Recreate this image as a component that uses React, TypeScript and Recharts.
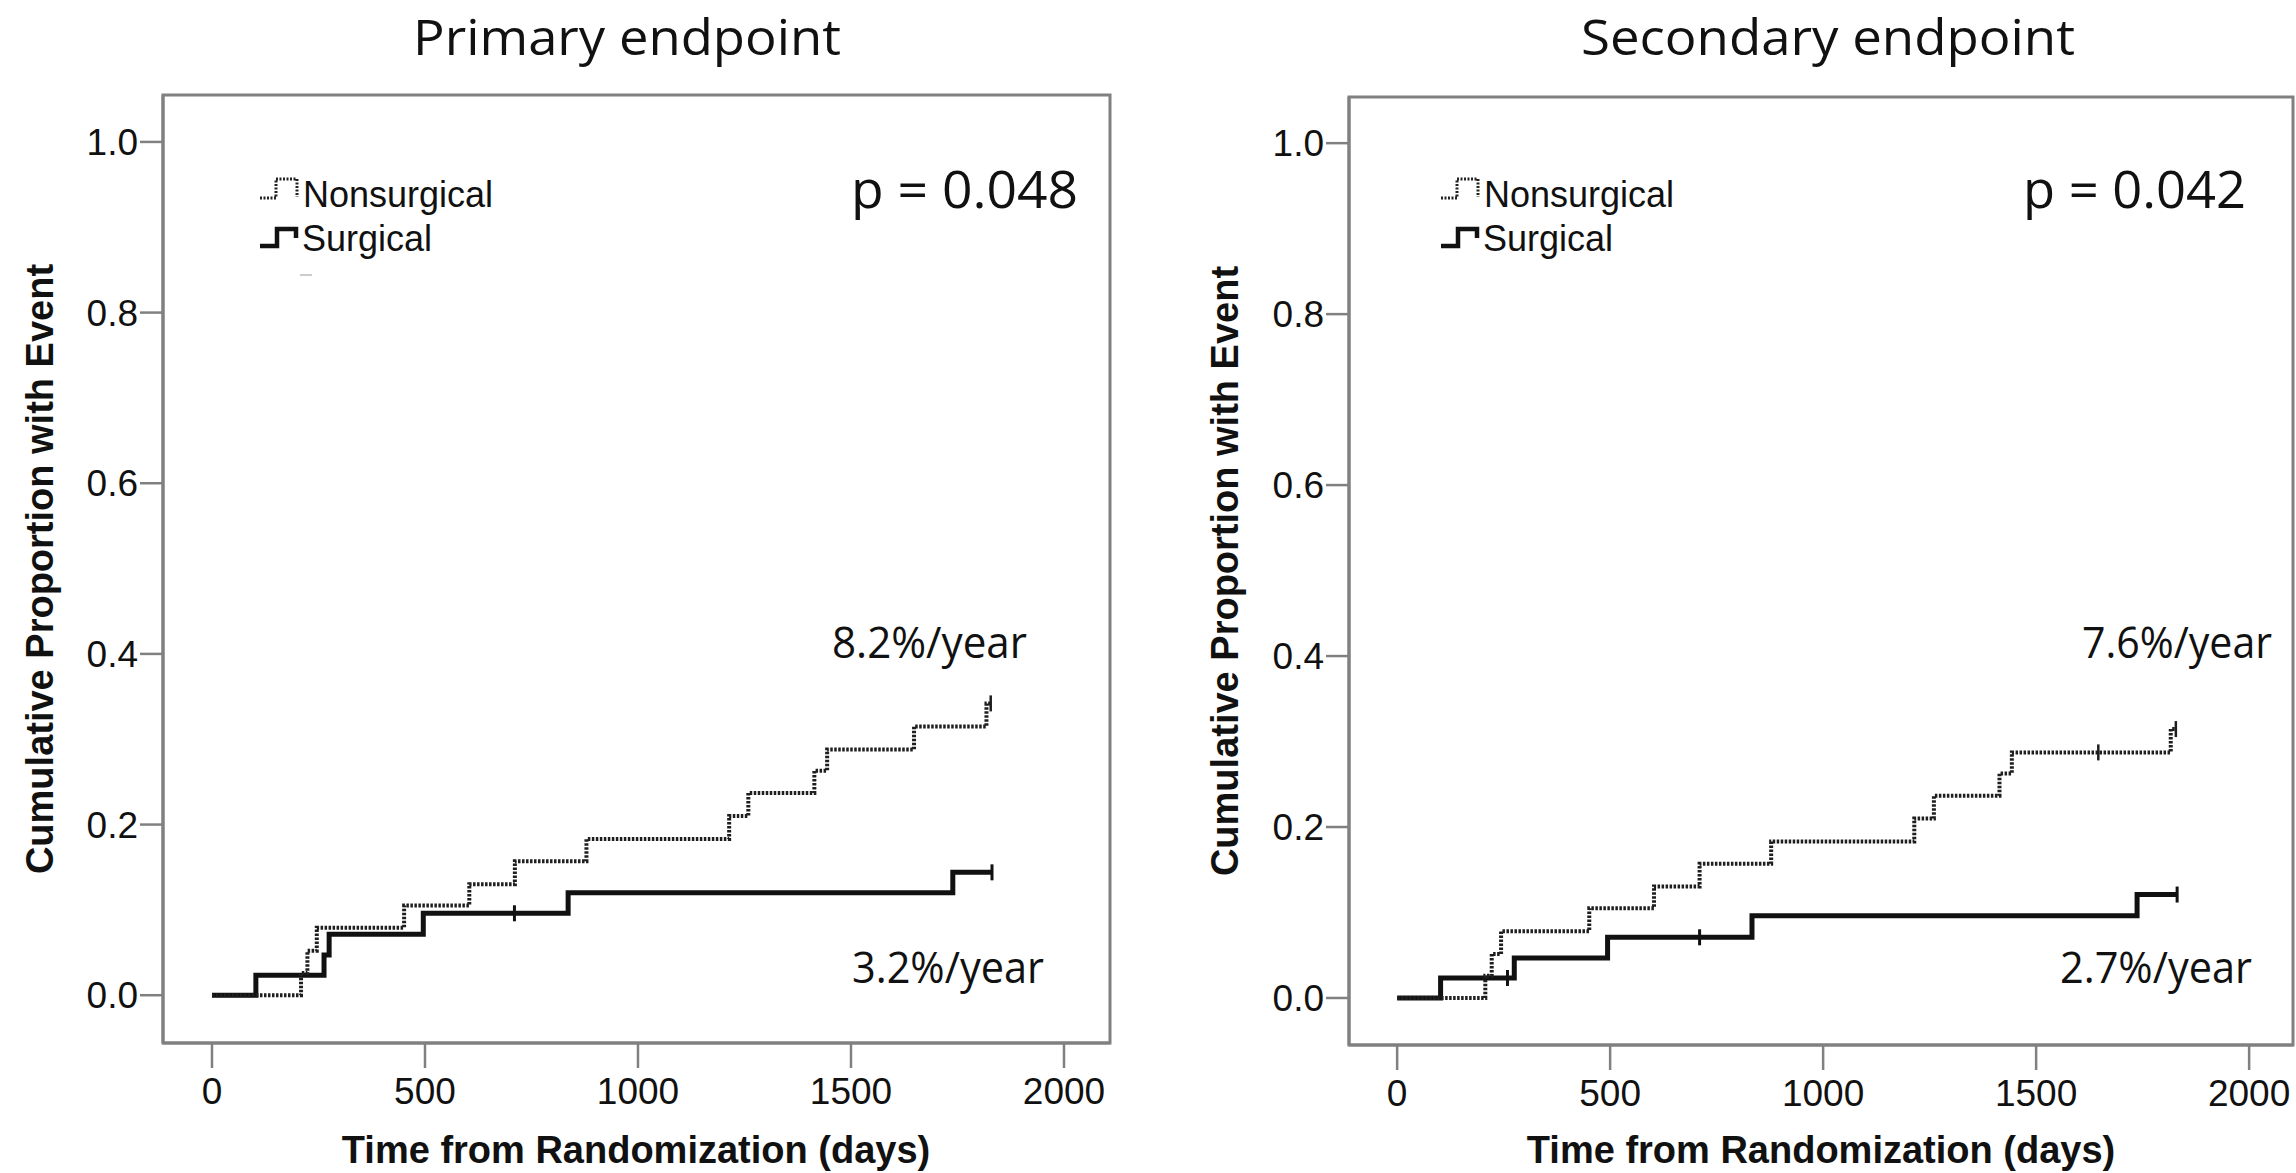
import React from 'react';
import { LineChart, Line, XAxis, YAxis, ReferenceArea } from 'recharts';

type Pt = { t: number; v: number; c?: number };

// ---- data ----
const xTicks = [0, 500, 1000, 1500, 2000];
const yTicks = [0, 0.2, 0.4, 0.6, 0.8, 1.0];
const seriesNames = ['Nonsurgical', 'Surgical'];
const panelTitles = ['Primary endpoint', 'Secondary endpoint'];
const pValues = ['p = 0.048', 'p = 0.042'];
const nonsurgicalRates = ['8.2%/year', '7.6%/year'];
const surgicalRates = ['3.2%/year', '2.7%/year'];
const xAxisTitle = 'Time from Randomization (days)';
const yAxisTitle = 'Cumulative Proportion with Event';

// c = censored mark
const primaryNonsurgical: Pt[] = [
  { t: 0, v: 0 }, { t: 209, v: 0.026 }, { t: 224, v: 0.052 }, { t: 246, v: 0.079 },
  { t: 451, v: 0.105 }, { t: 604, v: 0.130 }, { t: 711, v: 0.157 }, { t: 879, v: 0.183 },
  { t: 1214, v: 0.210 }, { t: 1259, v: 0.237 }, { t: 1414, v: 0.263 }, { t: 1444, v: 0.288 },
  { t: 1648, v: 0.315 }, { t: 1818, v: 0.342 }, { t: 1828, v: 0.342, c: 1 },
];
const primarySurgical: Pt[] = [
  { t: 0, v: 0 }, { t: 103, v: 0.0234 }, { t: 263, v: 0.047 }, { t: 275, v: 0.0715 },
  { t: 496, v: 0.096 }, { t: 710, v: 0.096, c: 1 }, { t: 836, v: 0.120 },
  { t: 1739, v: 0.144 }, { t: 1831, v: 0.144, c: 1 },
];
const secondaryNonsurgical: Pt[] = [
  { t: 0, v: 0 }, { t: 207, v: 0.026 }, { t: 222, v: 0.0515 }, { t: 244, v: 0.078 },
  { t: 451, v: 0.105 }, { t: 603, v: 0.1305 }, { t: 710, v: 0.157 }, { t: 878, v: 0.183 },
  { t: 1214, v: 0.210 }, { t: 1260, v: 0.2366 }, { t: 1414, v: 0.2627 }, { t: 1443, v: 0.2873 },
  { t: 1646, v: 0.2873, c: 1 }, { t: 1816, v: 0.3146 }, { t: 1828, v: 0.3146, c: 1 },
];
const secondarySurgical: Pt[] = [
  { t: 0, v: 0 }, { t: 102, v: 0.0234 }, { t: 259, v: 0.0234, c: 1 }, { t: 275, v: 0.0468 },
  { t: 494, v: 0.071 }, { t: 710, v: 0.071, c: 1 }, { t: 833, v: 0.0963 },
  { t: 1737, v: 0.121 }, { t: 1831, v: 0.121, c: 1 },
];

const ARIAL = '"Liberation Sans", Arial, sans-serif';
const CAL = '"Open Sans", "Noto Sans", sans-serif';
const GRAY = '#808080';

const censorDot = (color: string, w: number) => (props: any) => {
  const { cx, cy, payload, index } = props;
  if (!payload || !payload.c || cx == null || cy == null) return <g key={`d${index}`} />;
  return (
    <line key={`d${index}`} x1={cx} x2={cx} y1={cy - 8} y2={cy + 8} stroke={color} strokeWidth={w} />
  );
};

type PanelProps = {
  left: number;
  width: number;
  margin: { top: number; right: number; bottom: number; left: number };
  xDomain: [number, number];
  yDomain: [number, number];
  nonsurgical: Pt[];
  surgical: Pt[];
};

function Panel(p: PanelProps) {
  return (
    <div style={{ position: 'absolute', left: p.left, top: 0 }}>
      <LineChart width={p.width} height={1173} margin={p.margin}>
        <XAxis
          type="number"
          dataKey="t"
          domain={p.xDomain}
          ticks={xTicks}
          allowDataOverflow
          height={60}
          tickSize={25}
          tickMargin={10}
          axisLine={{ stroke: GRAY, strokeWidth: 3 }}
          tickLine={{ stroke: GRAY, strokeWidth: 2.5 }}
          tick={{ fontSize: 37, fill: '#111', fontFamily: ARIAL }}
        />
        <YAxis
          type="number"
          dataKey="v"
          domain={p.yDomain}
          ticks={yTicks}
          allowDataOverflow
          width={60}
          tickSize={23}
          tickMargin={2}
          tickFormatter={(v: number) => v.toFixed(1)}
          axisLine={{ stroke: GRAY, strokeWidth: 3 }}
          tickLine={{ stroke: GRAY, strokeWidth: 2.5 }}
          tick={{ fontSize: 37, fill: '#111', fontFamily: ARIAL }}
        />
        <ReferenceArea
          x1={p.xDomain[0]}
          x2={p.xDomain[1]}
          y1={p.yDomain[0]}
          y2={p.yDomain[1]}
          fill="none"
          fillOpacity={0}
          stroke={GRAY}
          strokeWidth={3}
          ifOverflow="visible"
        />
        <Line
          data={p.surgical}
          dataKey="v"
          type="stepAfter"
          stroke="#111"
          strokeWidth={5}
          dot={censorDot('#111', 3)}
          activeDot={false}
          isAnimationActive={false}
          name={seriesNames[1]}
        />
        <Line
          data={p.nonsurgical}
          dataKey="v"
          type="stepAfter"
          stroke="#1e1e1e"
          strokeWidth={4}
          strokeDasharray="2.5 1.5"
          dot={censorDot('#1e1e1e', 2.5)}
          activeDot={false}
          isAnimationActive={false}
          name={seriesNames[0]}
        />
      </LineChart>
    </div>
  );
}

function LegendBlock({ dx }: { dx: number }) {
  return (
    <g transform={`translate(${dx},0)`}>
      <path d="M260 198 H276 V179 H297 V197" fill="none" stroke="#222" strokeWidth={3} strokeDasharray="2 1.5" />
      <text x={303} y={207} fontFamily={ARIAL} fontSize={36} fill="#111">{seriesNames[0]}</text>
      <path d="M260 246 H277 V229 H296 V238" fill="none" stroke="#111" strokeWidth={4.5} />
      <text x={302} y={251} fontFamily={ARIAL} fontSize={36} fill="#111">{seriesNames[1]}</text>
    </g>
  );
}

export default function App() {
  return (
    <div style={{ position: 'absolute', left: 0, top: 0, width: 2296, height: 1173, background: '#fff', overflow: 'hidden' }}>
      <Panel
        left={0}
        width={1150}
        margin={{ top: 95, right: 40, bottom: 70, left: 103 }}
        xDomain={[-115, 2108]}
        yDomain={[-0.056, 1.055]}
        nonsurgical={primaryNonsurgical}
        surgical={primarySurgical}
      />
      <Panel
        left={1150}
        width={1146}
        margin={{ top: 97, right: 3, bottom: 68, left: 139 }}
        xDomain={[-113, 2103]}
        yDomain={[-0.055, 1.054]}
        nonsurgical={secondaryNonsurgical}
        surgical={secondarySurgical}
      />
      <svg width={2296} height={1173} style={{ position: 'absolute', left: 0, top: 0, pointerEvents: 'none' }}>
        {/* titles */}
        <text x={413} y={55} fontFamily={CAL} fontSize={49} fill="#111" textLength={428} lengthAdjust="spacingAndGlyphs">{panelTitles[0]}</text>
        <text x={1581} y={55} fontFamily={CAL} fontSize={49} fill="#111" textLength={494} lengthAdjust="spacingAndGlyphs">{panelTitles[1]}</text>
        {/* p values */}
        <text x={851} y={208} fontFamily={CAL} fontSize={51} fill="#111" textLength={227} lengthAdjust="spacingAndGlyphs">{pValues[0]}</text>
        <text x={2023} y={208} fontFamily={CAL} fontSize={51} fill="#111" textLength={223} lengthAdjust="spacingAndGlyphs">{pValues[1]}</text>
        {/* rates */}
        <text x={832} y={658} fontFamily={CAL} fontSize={44} fill="#111" textLength={195} lengthAdjust="spacingAndGlyphs">{nonsurgicalRates[0]}</text>
        <text x={2082} y={658} fontFamily={CAL} fontSize={44} fill="#111" textLength={190} lengthAdjust="spacingAndGlyphs">{nonsurgicalRates[1]}</text>
        <text x={852} y={983} fontFamily={CAL} fontSize={44} fill="#111" textLength={192} lengthAdjust="spacingAndGlyphs">{surgicalRates[0]}</text>
        <text x={2060} y={983} fontFamily={CAL} fontSize={44} fill="#111" textLength={192} lengthAdjust="spacingAndGlyphs">{surgicalRates[1]}</text>
        {/* legends */}
        <LegendBlock dx={0} />
        <LegendBlock dx={1181} />
        <line x1={300} x2={312} y1={275} y2={275} stroke="#bbb" strokeWidth={1.5} />
        {/* axis titles */}
        <text x={636} y={1163} textAnchor="middle" fontFamily={ARIAL} fontWeight="bold" fontSize={38} fill="#111">{xAxisTitle}</text>
        <text x={1821} y={1163} textAnchor="middle" fontFamily={ARIAL} fontWeight="bold" fontSize={38} fill="#111">{xAxisTitle}</text>
        <text transform="translate(53,569) rotate(-90)" textAnchor="middle" fontFamily={ARIAL} fontWeight="bold" fontSize={38} fill="#111">{yAxisTitle}</text>
        <text transform="translate(1238,571) rotate(-90)" textAnchor="middle" fontFamily={ARIAL} fontWeight="bold" fontSize={38} fill="#111">{yAxisTitle}</text>
      </svg>
    </div>
  );
}
